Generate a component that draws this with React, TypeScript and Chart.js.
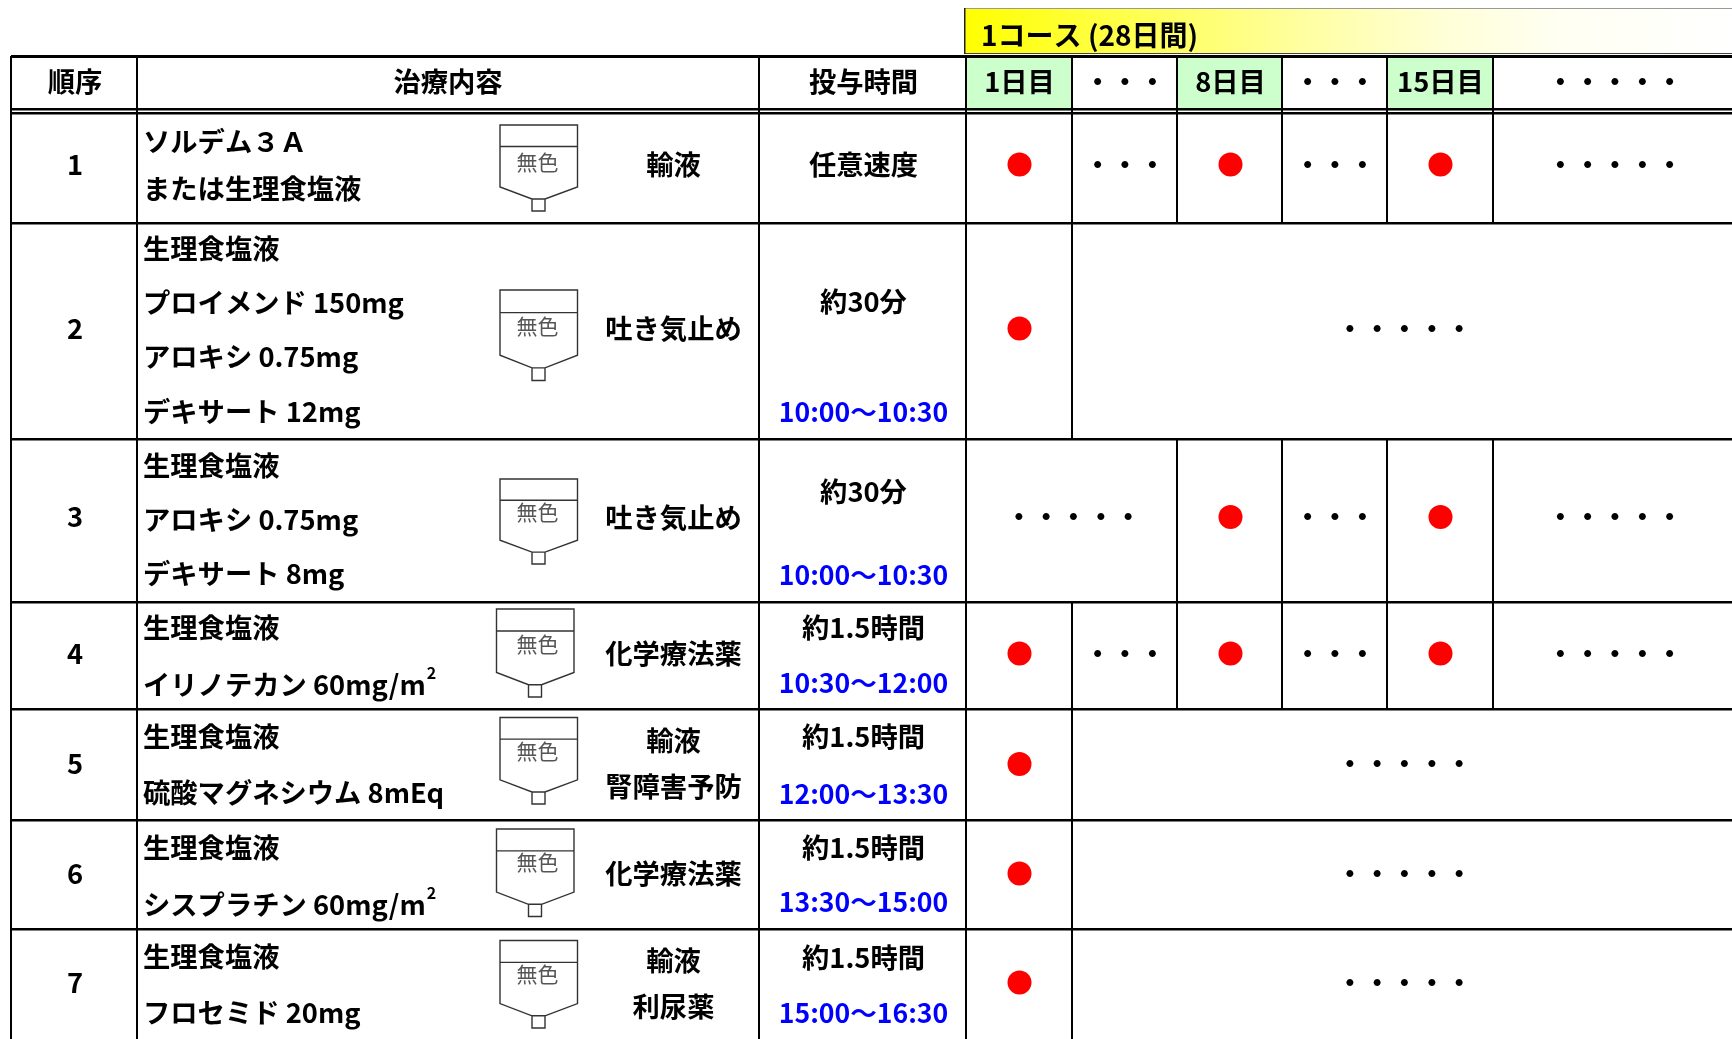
import React, { useEffect, useRef } from "react";
import { Chart, registerables, LinearScale } from "chart.js";

// ---------- data ----------
const rowNumbers = ["1", "2", "3", "4", "5", "6", "7"];
const headerLabels = ["順序", "治療内容", "投与時間"];
const courseLabel = "1コース (28日間)";
const dayLabels = ["1日目", "・・・", "8日目", "・・・", "15日目", "・・・・・"];
const doseRowsDay1 = [1, 2, 4, 5, 6, 7];
const doseRowsDay8 = [1, 3, 4];
const doseRowsDay15 = [1, 3, 4];
const treatments = [
  ["ソルデム３Ａ", "または生理食塩液"],
  ["生理食塩液", "プロイメンド 150mg", "アロキシ 0.75mg", "デキサート 12mg"],
  ["生理食塩液", "アロキシ 0.75mg", "デキサート 8mg"],
  ["生理食塩液", "イリノテカン 60mg/m"],
  ["生理食塩液", "硫酸マグネシウム 8mEq"],
  ["生理食塩液", "シスプラチン 60mg/m"],
  ["生理食塩液", "フロセミド 20mg"],
];
const purposes = [["輸液"], ["吐き気止め"], ["吐き気止め"], ["化学療法薬"], ["輸液", "腎障害予防"], ["化学療法薬"], ["輸液", "利尿薬"]];
const durations = ["任意速度", "約30分", "約30分", "約1.5時間", "約1.5時間", "約1.5時間", "約1.5時間"];
const clockTimes = ["", "10:00～10:30", "10:00～10:30", "10:30～12:00", "12:00～13:30", "13:30～15:00", "15:00～16:30"];
const bagLabel = "無色";

// ---------- layout (page pixels) ----------
const W = 1732, H = 1039;
const FONT = '"Noto Sans CJK JP"';
const colX = { left: 11, no: 137, time: 759, d0: 966, d1: 1072, d2: 1177, d3: 1282, d4: 1387, d5: 1493 };
const rowLineY = [223, 439, 602, 709, 820, 929];
const dayCentres = [1019.5, 1125, 1230.5, 1335, 1440.5, 1615];
const rowMarkCentres = [164.5, 328.5, 517, 653.5, 764, 873.5, 982.5];
const treatmentY = [[142, 189], [249, 303, 357, 412], [466, 520, 574], [628, 685], [737, 793], [848, 905], [957, 1013]];
const purposeY = [[165], [329], [518], [654], [741, 787], [874], [961, 1007]];
const durationY = [165, 302, 492, 627.5, 737, 848, 958];
const clockY = [0, 412, 575, 683, 794, 902, 1013];
const bags = [
  { x: 500, y: 125, h: 86, label: 37 }, { x: 500, y: 290, h: 90.5, label: 36 }, { x: 500, y: 479, h: 85, label: 33.5 },
  { x: 496.5, y: 609, h: 88, label: 35 }, { x: 500, y: 717.5, h: 86.5, label: 34 }, { x: 496.5, y: 829, h: 87.5, label: 33.5 }, { x: 500, y: 940.5, h: 87.5, label: 34 },
];
const rowDots = [
  { cols: [1, 3, 5] }, { span: 1404.5 }, { span: 1073.5, cols: [3, 5] }, { cols: [1, 3, 5] }, { span: 1404.5 }, { span: 1404.5 }, { span: 1404.5 },
];
const rowVerticals = [
  [colX.d1, colX.d2, colX.d3, colX.d4, colX.d5], [colX.d1], [colX.d2, colX.d3, colX.d4, colX.d5],
  [colX.d1, colX.d2, colX.d3, colX.d4, colX.d5], [colX.d1], [colX.d1], [colX.d1],
];

// Scale whose whole-number values land on the (unequal) table columns or rows
class AnchoredScale extends LinearScale {
  static id = "anchored";
  static defaults = (LinearScale as any).defaults;
  getPixelForValue(value: number) {
    const a: number[] = (this as any).options.anchors;
    const base: number = (this as any).options.base0 ?? 0;
    const p = value - base;
    const i = Math.max(0, Math.min(a.length - 2, Math.floor(p)));
    return a[i] + (a[i + 1] - a[i]) * (p - i);
  }
}

const tablePlugin = {
  id: "tableDrawing",
  beforeDatasetsDraw(chart: any) {
    const c: CanvasRenderingContext2D = chart.ctx;
    const xs = chart.scales.x, ys = chart.scales.y;
    const rect = (x: number, y: number, w: number, h: number, col: any = "#000") => { c.fillStyle = col; c.fillRect(x, y, w, h); };
    const text = (s: string, x: number, y: number, o: { align?: CanvasTextAlign; size?: number; weight?: string; color?: string } = {}) => {
      c.font = `${o.weight ?? "bold"} ${o.size ?? 27.3}px ${FONT}`;
      c.textAlign = o.align ?? "center";
      c.textBaseline = "middle";
      c.fillStyle = o.color ?? "#000";
      c.fillText(s, x, y);
    };
    c.save();
    rect(0, 0, W, H, "#fff");

    // course banner
    const g = c.createLinearGradient(965, 0, W, 0);
    g.addColorStop(0, "#ffff00");
    g.addColorStop(0.437, "#ffffa0");
    g.addColorStop(0.62, "#ffffd6");
    g.addColorStop(0.775, "#fffff2");
    g.addColorStop(1, "#ffffff");
    rect(965, 9, W - 965, 44, g);
    rect(964, 8, W - 964, 1, "#999");
    rect(964, 53, W - 964, 1, "#444");
    rect(964, 8, 1.5, 46, "#222");
    text(courseLabel, 981, 35, { align: "left", size: 28 });

    // header greens
    [0, 2, 4].forEach((i) => {
      const edges = [colX.d0, colX.d1, colX.d2, colX.d3, colX.d4, colX.d5];
      rect(edges[i], 56, edges[i + 1] - edges[i], 55, "#ccffcc");
    });

    // horizontal rules
    rect(colX.left, 55, W - colX.left, 3);
    rect(colX.left, 108, W - colX.left, 2.5);
    rect(colX.left, 112, W - colX.left, 2.5);
    rowLineY.forEach((y) => rect(colX.left, y - 1, W - colX.left, 2.5));

    // vertical rules
    [colX.left, colX.no, colX.time, colX.d0].forEach((x) => rect(x - 1, 56, 2, H - 56));
    [colX.d1, colX.d2, colX.d3, colX.d4, colX.d5].forEach((x) => rect(x - 1, 56, 2, 57));
    const tops = [113, ...rowLineY];
    const bots = [...rowLineY, H];
    rowVerticals.forEach((list, r) => list.forEach((x) => rect(x - 1, tops[r], 2, bots[r] - tops[r])));

    // header text
    text(headerLabels[0], 75, 82);
    text(headerLabels[1], 448, 82);
    text(headerLabels[2], 863.5, 82);
    dayLabels.forEach((d, i) => text(d, xs.getPixelForValue(i), 82));

    // body
    rowNumbers.forEach((n, r) => {
      text(n, 75, ys.getPixelForValue(r + 1));
      treatments[r].forEach((t, k) => {
        const y = treatmentY[r][k];
        text(t, 143, y, { align: "left" });
        if (t.endsWith("/m")) {
          const w = c.measureText(t).width;
          text("2", 143 + w + 1, y - 12, { align: "left", size: 16 });
        }
      });
      purposes[r].forEach((p, k) => text(p, 673.5, purposeY[r][k]));
      text(durations[r], 863.5, durationY[r]);
      if (clockTimes[r]) text(clockTimes[r], 863.5, clockY[r], { color: "#0000ff", size: 26.6 });

      const d: any = rowDots[r];
      const my = ys.getPixelForValue(r + 1);
      (d.cols ?? []).forEach((col: number) => text(dayLabels[col], xs.getPixelForValue(col), my));
      if (d.span) text(dayLabels[5], d.span, my);

      // drip bag
      const b = bags[r];
      const k = b.h / 86;
      c.strokeStyle = "#333";
      c.lineWidth = 1.4;
      const bw = 77.5;
      c.beginPath();
      c.moveTo(b.x, b.y);
      c.lineTo(b.x + bw, b.y);
      c.lineTo(b.x + bw, b.y + 62 * k);
      c.lineTo(b.x + 45, b.y + 74 * k);
      c.lineTo(b.x + 32, b.y + 74 * k);
      c.lineTo(b.x, b.y + 62 * k);
      c.closePath();
      c.moveTo(b.x, b.y + 21.5 * k);
      c.lineTo(b.x + bw, b.y + 21.5 * k);
      c.rect(b.x + 32, b.y + 74 * k, 13, 12 * k);
      c.stroke();
      text(bagLabel, 537.5, b.y + b.label, { size: 21, weight: "normal", color: "#555" });
    });
    c.restore();
  },
};

const dose = (column: number, rows: number[]) => ({
  data: rows.map((row) => ({ x: column, y: row })),
  backgroundColor: "#ff0000",
  borderWidth: 0,
  pointRadius: 12,
  pointHoverRadius: 12,
  clip: false as any,
});

export default function App() {
  const ref = useRef<HTMLCanvasElement>(null);
  useEffect(() => {
    Chart.register(...registerables, AnchoredScale as any);
    const chart = new Chart(ref.current!, {
      type: "scatter",
      data: { datasets: [dose(0, doseRowsDay1), dose(2, doseRowsDay8), dose(4, doseRowsDay15)] },
      options: {
        animation: false,
        responsive: false,
        events: [],
        layout: { padding: 0 },
        plugins: { legend: { display: false }, tooltip: { enabled: false }, title: { display: false } },
        scales: {
          x: { type: "anchored" as any, display: false, min: 0, max: 5, anchors: dayCentres, base0: 0 } as any,
          y: { type: "anchored" as any, display: false, min: 1, max: 7, anchors: rowMarkCentres, base0: 1 } as any,
        },
      },
      plugins: [tablePlugin as any],
    });
    return () => chart.destroy();
  }, []);
  return (
    <div style={{ position: "fixed", left: 0, top: 0, width: W, height: H, background: "#fff", overflow: "hidden" }}>
      <canvas ref={ref} width={W} height={H} style={{ display: "block" }} />
    </div>
  );
}
